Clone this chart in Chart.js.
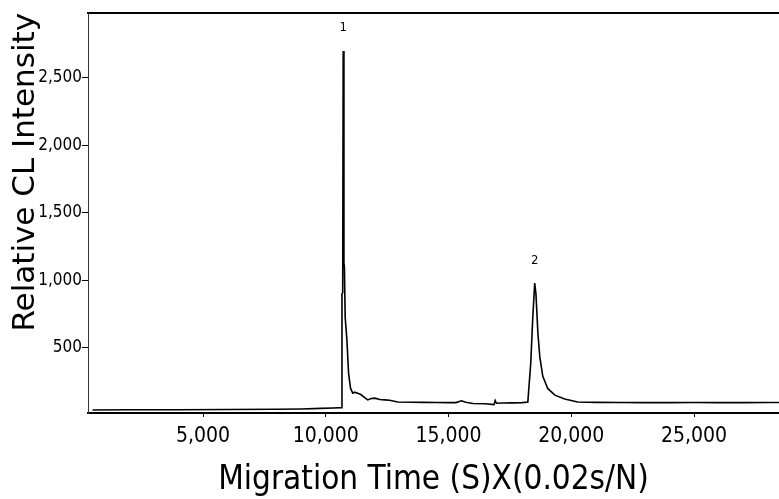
<!DOCTYPE html>
<html>
<head>
<meta charset="utf-8">
<script src="https://cdn.jsdelivr.net/npm/chart.js@4.4.1/dist/chart.umd.min.js"></script>
<style>
  html, body { margin: 0; padding: 0; background: #fff; overflow: hidden; }
  #wrap { width: 779px; height: 499px; position: relative; }
</style>
</head>
<body>
<div id="wrap"><canvas id="chart"></canvas></div>
<script>
// electropherogram trace
const migrationTime = [500, 2000, 4000, 6000, 8000, 9000, 9800, 10300, 10640, 10660,
  10690, 10710, 10740, 10760, 10790, 10860, 10930, 11010, 11100, 11180,
  11300, 11430, 11600, 11710, 11850, 12000, 12200, 12400, 12600, 12930,
  13500, 14000, 14500, 15000, 15300, 15530, 15700, 16000, 16500, 16850,
  16900, 16950, 17200, 17600, 18000, 18230, 18350, 18430, 18510, 18560,
  18640, 18720, 18840, 19040, 19330, 19730, 20260, 21000, 22000, 23000,
  24000, 25000, 26000, 27000, 28000, 28460];
const intensity = [40, 42, 42, 44, 46, 48, 52, 55, 58, 900,
  910, 2700, 1130, 1100, 730, 560, 310, 200, 165, 172,
  165, 155, 130, 115, 125, 128, 118, 115, 112, 100,
  98, 97, 96, 95, 95, 108, 98, 88, 86, 80,
  110, 90, 92, 93, 95, 100, 390, 720, 980, 900,
  610, 430, 290, 200, 150, 122, 100, 97, 96, 95,
  95, 96, 95, 95, 96, 96];

const xTicks = [5000, 10000, 15000, 20000, 25000];
const yTicks = [500, 1000, 1500, 2000, 2500];

const peakLabels = ['1', '2'];
const peakTimes = [10710, 18510];
const peakLabelLevels = [2870, 1150];

const NARROW = "'Liberation Sans Narrow', 'Arial Narrow', 'DejaVu Sans Condensed', sans-serif";

const peakLabelPlugin = {
  id: 'peakLabels',
  afterDatasetsDraw(chart) {
    const { ctx, scales: { x, y } } = chart;
    ctx.save();
    ctx.font = "13px " + NARROW;
    ctx.fillStyle = '#000';
    ctx.textAlign = 'center';
    ctx.textBaseline = 'middle';
    peakLabels.forEach((t, i) => {
      ctx.fillText(t, x.getPixelForValue(peakTimes[i]), y.getPixelForValue(peakLabelLevels[i]));
    });
    ctx.restore();
  }
};

const xMin = 316, xMax = 28460;

new Chart(document.getElementById('chart'), {
  type: 'line',
  data: {
    datasets: [{
      data: migrationTime.map((t, i) => ({ x: t, y: intensity[i] })),
      borderColor: '#000',
      borderWidth: 1.6,
      pointRadius: 0,
      fill: false,
      tension: 0
    }]
  },
  options: {
    responsive: true,
    maintainAspectRatio: false,
    animation: false,
    locale: 'en-US',
    layout: { padding: 0 },
    plugins: {
      legend: { display: false },
      tooltip: { enabled: false }
    },
    scales: {
      x: {
        type: 'linear',
        position: 'bottom',
        min: xMin,
        max: xMax,
        afterBuildTicks: (s) => { s.ticks = xTicks.map(v => ({ value: v })); },
        afterFit: (s) => { s.height = 86; },
        ticks: {
          color: '#000',
          font: { family: NARROW, size: 21 },
          padding: 7,
          maxRotation: 0
        },
        grid: { drawOnChartArea: false, drawTicks: true, tickLength: 4, color: '#000' },
        border: { display: true, color: '#000', width: 2 },
        title: {
          display: true,
          text: 'Migration Time (S)X(0.02s/N)',
          color: '#000',
          font: { family: NARROW, size: 33, lineHeight: 1 },
          padding: { top: 0, bottom: 2 }
        }
      },
      xTop: {
        type: 'linear',
        axis: 'x',
        position: 'top',
        min: xMin,
        max: xMax,
        afterFit: (s) => { s.height = 13; },
        ticks: { display: false },
        grid: { display: false },
        border: { display: true, color: '#000', width: 2 }
      },
      y: {
        type: 'linear',
        position: 'left',
        min: 18,
        max: 2981,
        afterBuildTicks: (s) => { s.ticks = yTicks.map(v => ({ value: v })); },
        afterFit: (s) => { s.width = 88; },
        ticks: {
          color: '#000',
          font: { family: NARROW, size: 17 },
          padding: 0
        },
        grid: { drawOnChartArea: false, drawTicks: true, tickLength: 6, color: '#000' },
        border: { display: true, color: '#333', width: 1 },
        title: {
          display: true,
          text: 'Relative CL Intensity',
          align: 'end',
          color: '#000',
          font: { family: "'DejaVu Sans', sans-serif", size: 31, lineHeight: 1 },
          padding: { top: 10, bottom: 0 }
        }
      }
    }
  },
  plugins: [peakLabelPlugin]
});
</script>
</body>
</html>
